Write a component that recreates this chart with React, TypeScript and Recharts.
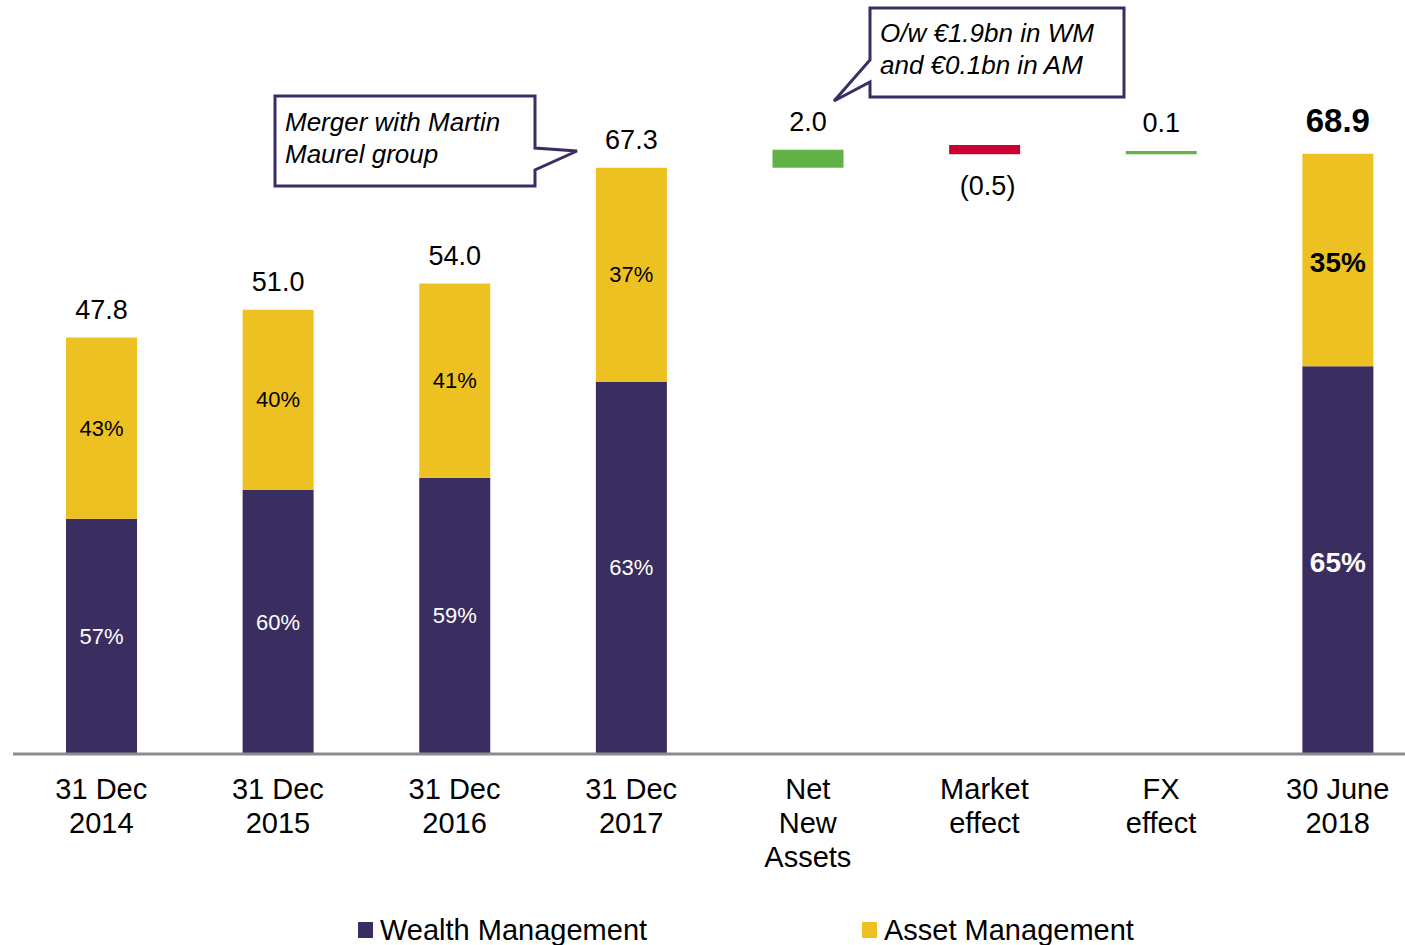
import React from 'react';
import { BarChart, Bar, XAxis, YAxis, Cell, LabelList } from 'recharts';

const FONT = '"Liberation Sans", Arial, sans-serif';
const NAVY = '#3A2D5F';
const GOLD = '#EEC123';
const GREEN = '#62B247';
const RED = '#CC0033';
const BOX = '#3B2C66';

// categories (line breaks are drawn as separate tick lines)
const categories = ['31 Dec\n2014', '31 Dec\n2015', '31 Dec\n2016', '31 Dec\n2017', 'Net\nNew\nAssets', 'Market\neffect', 'FX\neffect', '30 June\n2018'];

// stacked AuM split (€bn)
const wealth = [27.0, 30.3, 31.7, 42.7, 0, 0, 0, 44.5];
const asset = [20.8, 20.7, 22.3, 24.6, 0, 0, 0, 24.4];
const wealthShare = ['57%', '60%', '59%', '63%', '', '', '', '65%'];
const assetShare = ['43%', '40%', '41%', '37%', '', '', '', '35%'];
const totals = ['47.8', '51.0', '54.0', '67.3', '', '', '', '68.9'];

// bridge steps: floating bar start + drawn height, and the labelled change
const bridgeBase = [0, 0, 0, 0, 67.3, 68.85, 68.85, 0];
const bridgeStep = [0, 0, 0, 0, 2.05, 1.05, 0.35, 0];
const bridgeChange = [null, null, null, null, 2.0, -0.5, 0.1, null];
const bridgeColors = ['', '', '', '', GREEN, RED, GREEN, ''];

const data = categories.map((name, i) => ({
    name,
    base: bridgeBase[i],
    wealth: wealth[i],
    asset: asset[i],
    step: bridgeStep[i],
}));

const LAST = categories.length - 1;
// label lists only get the drawn bars, so look the row up by its category
const rowOf = (props: any) => categories.indexOf(props.value);

const CategoryTick = ({ x, y, payload }: any) => {
    const lines = String(payload.value).split('\n');
    return (
        <text x={x} y={y} textAnchor="middle" fontSize={29} fill="#000" fontFamily={FONT}>
            {lines.map((l, i) => (
                <tspan key={i} x={x} dy={i === 0 ? 45 : 34}>{l}</tspan>
            ))}
        </text>
    );
};

const TotalLabel = (props: any) => {
    const { x, y, width } = props;
    const i = rowOf(props);
    const t = totals[i];
    if (!t) return null;
    const last = i === LAST;
    return (
        <text
            x={x + width / 2}
            y={y - (last ? 33 : 28)}
            textAnchor="middle"
            dominantBaseline="central"
            fontSize={last ? 33 : 27}
            fontWeight={last ? 'bold' : 'normal'}
            fill="#000"
            fontFamily={FONT}
        >
            {t}
        </text>
    );
};

const shareLabel = (shares: string[], color: string) => (props: any) => {
    const { x, y, width, height } = props;
    const i = rowOf(props);
    const s = shares[i];
    if (!s) return null;
    const last = i === LAST;
    return (
        <text
            x={x + width / 2}
            y={y + height / 2 + (last ? 2 : 0)}
            textAnchor="middle"
            dominantBaseline="central"
            fontSize={last ? 28 : 22}
            fontWeight={last ? 'bold' : 'normal'}
            fill={color}
            fontFamily={FONT}
        >
            {s}
        </text>
    );
};

const StepLabel = (props: any) => {
    const { x, y, width, height } = props;
    const c = bridgeChange[rowOf(props)];
    if (c == null) return null;
    const text = c < 0 ? `(${Math.abs(c).toFixed(1)})` : c.toFixed(1);
    const ty = c < 0 ? y + height + 32 : y - 28;
    return (
        <text x={x + width / 2 + (c < 0 ? 3 : 0)} y={ty} textAnchor="middle" dominantBaseline="central" fontSize={27} fill="#000" fontFamily={FONT}>
            {text}
        </text>
    );
};

const Callouts = () => (
    <svg width={1405} height={945} style={{ position: 'absolute', left: 0, top: 0, pointerEvents: 'none' }}>
        <path d="M275,96 H535 V148 L577,151 L535,170 V186 H275 Z" fill="#fff" stroke={BOX} strokeWidth={3} strokeLinejoin="miter" />
        <text x={285} fontSize={26} fontStyle="italic" fill="#000" fontFamily={FONT}>
            <tspan x={285} y={131}>Merger with Martin</tspan>
            <tspan x={285} y={163}>Maurel group</tspan>
        </text>
        <path d="M870,8 H1124 V97 H870 V82 L834,101 L870,60 Z" fill="#fff" stroke={BOX} strokeWidth={3} strokeLinejoin="miter" />
        <text x={880} fontSize={26} fontStyle="italic" fill="#000" fontFamily={FONT}>
            <tspan x={880} y={42}>O/w €1.9bn in WM</tspan>
            <tspan x={880} y={74}>and €0.1bn in AM</tspan>
        </text>
    </svg>
);

const LegendRow = () => (
    <div style={{ position: 'absolute', left: 0, top: 912, width: 1405, fontFamily: FONT, fontSize: 29, color: '#000' }}>
        <div style={{ position: 'absolute', left: 358, top: 10, width: 15, height: 16, background: NAVY }} />
        <div style={{ position: 'absolute', left: 380, top: 0, lineHeight: '36px', whiteSpace: 'nowrap' }}>Wealth Management</div>
        <div style={{ position: 'absolute', left: 862, top: 10, width: 15, height: 16, background: GOLD }} />
        <div style={{ position: 'absolute', left: 884, top: 0, lineHeight: '36px', whiteSpace: 'nowrap' }}>Asset Management</div>
    </div>
);

const App: React.FC = () => {
    return (
        <div style={{ position: 'absolute', left: 0, top: 0, width: 1405, height: 945, overflow: 'hidden', background: '#fff' }}>
            <BarChart width={1440} height={945} data={data} margin={{ top: 57, right: 14, left: 13, bottom: 0 }} barSize={71}>
                <XAxis
                    dataKey="name"
                    height={191}
                    interval={0}
                    tickLine={false}
                    tickSize={0}
                    tickMargin={0}
                    axisLine={{ stroke: '#8C8C8C', strokeWidth: 3 }}
                    tick={<CategoryTick />}
                />
                <YAxis hide domain={[0, 80]} />
                <Bar dataKey="base" stackId="a" fill="transparent" isAnimationActive={false} />
                <Bar dataKey="wealth" stackId="a" fill={NAVY} isAnimationActive={false}>
                    <LabelList dataKey="name" content={shareLabel(wealthShare, '#fff')} />
                </Bar>
                <Bar dataKey="asset" stackId="a" fill={GOLD} isAnimationActive={false}>
                    <LabelList dataKey="name" content={shareLabel(assetShare, '#000')} />
                    <LabelList dataKey="name" content={<TotalLabel />} />
                </Bar>
                <Bar dataKey="step" stackId="a" isAnimationActive={false}>
                    {data.map((_, i) => (
                        <Cell key={`step-${i}`} fill={bridgeColors[i] || 'transparent'} />
                    ))}
                    <LabelList dataKey="name" content={<StepLabel />} />
                </Bar>
            </BarChart>
            <Callouts />
            <LegendRow />
        </div>
    );
};

export default App;
